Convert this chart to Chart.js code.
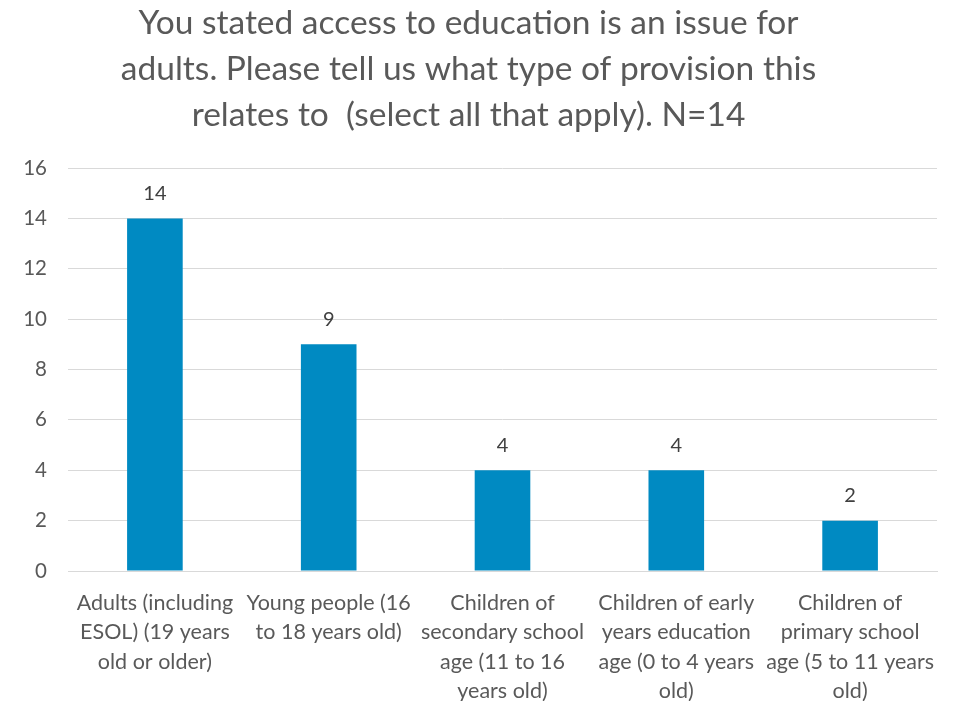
<!DOCTYPE html>
<html>
<head>
<meta charset="utf-8">
<script src="https://cdn.jsdelivr.net/npm/chart.js@4/dist/chart.umd.min.js"></script>
<style>
    html, body { margin: 0; padding: 0; background: #ffffff; }
    #wrap { width: 956px; height: 701px; }
</style>
</head>
<body>
<div id="wrap"><canvas id="chart" width="956" height="701"></canvas></div>
<script>
(function(){
    const title_lines = [
        'You stated access to education is an issue for',
        'adults. Please tell us what type of provision this',
        'relates to  (select all that apply). N=14'
    ];
    const categories = [
        ['Adults (including', 'ESOL) (19 years', 'old or older)'],
        ['Young people (16', 'to 18 years old)'],
        ['Children of', 'secondary school', 'age (11 to 16', 'years old)'],
        ['Children of early', 'years education', 'age (0 to 4 years', 'old)'],
        ['Children of', 'primary school', 'age (5 to 11 years', 'old)']
    ];
    const counts = [14, 9, 4, 4, 2];
    const y_max = 16;
    const y_step = 2;

    const font_family = 'Lato, "Open Sans", sans-serif';
    const text_grey = '#595959';
    const bar_blue = '#008AC2';

    // small plugin for the value labels above the bars
    const valueLabels = {
        id: 'valueLabels',
        afterDatasetsDraw(chart) {
            const ctx = chart.ctx;
            const meta = chart.getDatasetMeta(0);
            ctx.save();
            ctx.font = '20px ' + font_family;
            ctx.fillStyle = '#404040';
            ctx.textAlign = 'center';
            ctx.textBaseline = 'middle';
            meta.data.forEach(function(bar, i){
                ctx.fillText(String(counts[i]), bar.x, bar.y - 25);
            });
            ctx.restore();
        }
    };

    const ctx = document.getElementById('chart').getContext('2d');
    new Chart(ctx, {
        type: 'bar',
        data: {
            labels: categories,
            datasets: [{
                data: counts,
                backgroundColor: bar_blue,
                borderWidth: 0,
                barPercentage: 0.32,
                categoryPercentage: 1
            }]
        },
        options: {
            responsive: false,
            animation: false,
            layout: { padding: { left: 0, right: 19, top: 0, bottom: 0 } },
            plugins: {
                legend: { display: false },
                tooltip: { enabled: false },
                title: {
                    display: true,
                    text: title_lines,
                    color: text_grey,
                    font: { family: font_family, size: 33.5, weight: 'normal', lineHeight: '46px' },
                    padding: { top: 0, bottom: 30 }
                }
            },
            scales: {
                x: {
                    grid: { display: false, drawTicks: false },
                    border: { display: true, color: '#d9d9d9', width: 1 },
                    ticks: {
                        color: text_grey,
                        font: { family: font_family, size: 21.5, lineHeight: '29.5px' },
                        padding: 17,
                        maxRotation: 0,
                        minRotation: 0,
                        autoSkip: false
                    },
                    afterFit(scale) { scale.height = 130; }
                },
                y: {
                    min: 0,
                    max: y_max,
                    grid: { color: '#d9d9d9', lineWidth: 1, drawTicks: false },
                    border: { display: false },
                    ticks: {
                        stepSize: y_step,
                        color: text_grey,
                        font: { family: font_family, size: 20.5 },
                        padding: 21
                    },
                    afterFit(scale) { scale.width = 68; }
                }
            }
        },
        plugins: [valueLabels]
    });
})()
</script>
</body>
</html>
